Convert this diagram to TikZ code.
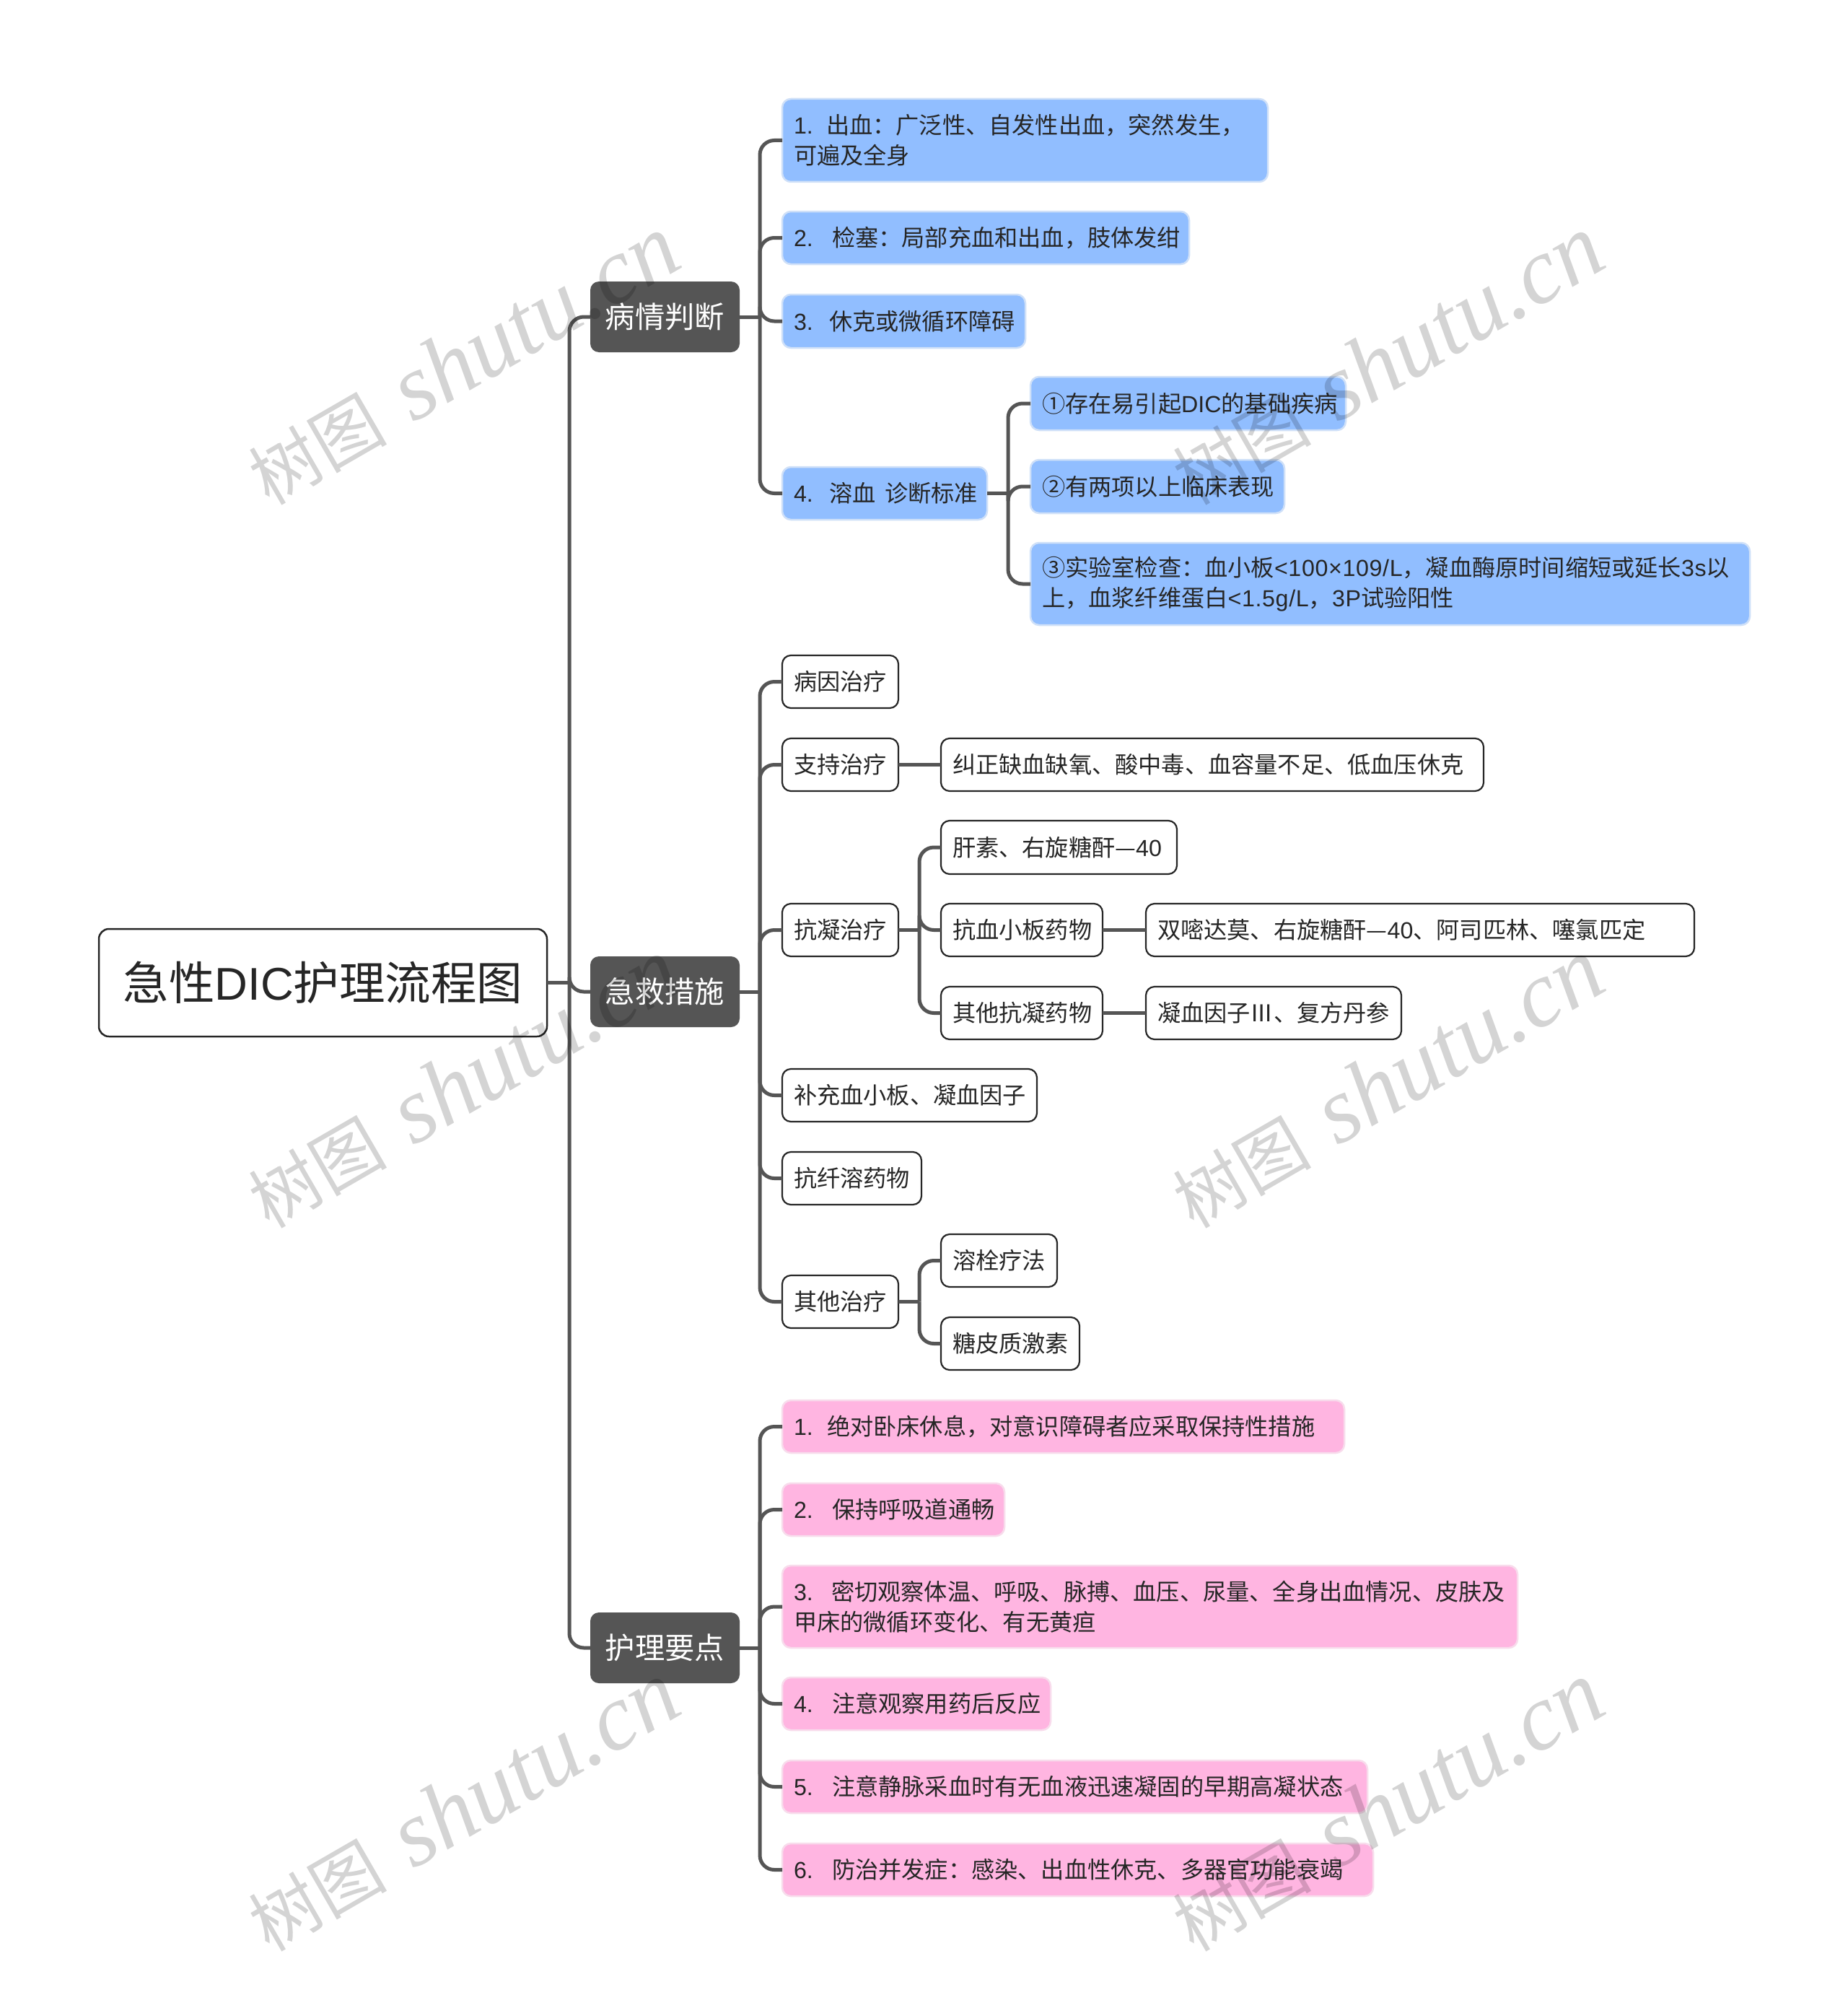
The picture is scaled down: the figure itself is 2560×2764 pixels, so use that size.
\documentclass[tikz,border=0pt]{standalone}
\usepackage{fontspec}
\setmainfont{Noto Sans CJK SC}
\newfontfamily\wmcjk{Noto Sans CJK SC}
\newfontfamily\wmlat{Liberation Serif}[ItalicFont=* Italic]
\newfontfamily\lat{Liberation Sans}
\newfontfamily\lats{Liberation Sans}[LetterSpace=2]
\definecolor{lnk}{HTML}{555555}
\definecolor{blu}{HTML}{91BEFF}
\definecolor{blub}{HTML}{CFE0F8}
\definecolor{pnk}{HTML}{FFB5E1}
\definecolor{pnkb}{HTML}{F8DCEC}
\definecolor{txt}{HTML}{262626}
\tikzset{
  boxbase/.style={rectangle,rounded corners=12pt,outer sep=0pt,inner xsep=16pt,inner ysep=0pt,anchor=north west,align=left,text=txt,font=\fontsize{32.2}{41.8}\selectfont},
  rootbox/.style={boxbase,draw=black!85,line width=2.5pt,fill=white,rounded corners=14pt,font=\fontsize{63.5}{76}\selectfont},
  branchbox/.style={boxbase,draw=none,fill=lnk,text=white,font=\fontsize{41.3}{50}\selectfont},
  bluebox/.style={boxbase,draw=blub,line width=2.5pt,fill=blu},
  pinkbox/.style={boxbase,draw=pnkb,line width=2.5pt,fill=pnk},
  whitebox/.style={boxbase,draw=black!85,line width=2.2pt,fill=white},
  conn/.style={draw=lnk,line width=5pt},
  elbow/.style={conn,rounded corners=20pt},
  wmark/.style={text=black,text opacity=.17,rotate=30,anchor=base west,inner sep=0pt}
}
% \nd{name}{style}{x1}{y1}{x2}{y2}{text}
\newcommand\nd[7]{%
  \pgfmathsetmacro\nw{#5-#3}\pgfmathsetmacro\nh{#6-#4}\pgfmathsetmacro\tw{#5-#3-32}%
  \node[#2,minimum width=\nw pt,minimum height=\nh pt,text width=\tw pt] (#1) at (#3,#4) {\raisebox{-2.5pt}{\parbox[c]{\tw pt}{#7}}};}
% \kid{parent}{child}{trunk}
\newcommand\kid[3]{%
  \draw[conn] (#1.east) -- (#1.east -| #3);
  \draw[elbow] (#1.east -| #3) -- (#2.west -| #3) -- (#2.west);}
\newcommand\la[1]{{\lat #1}}
\newcommand\las[1]{{\lats #1}}
\newcommand\np[2]{\makebox[#2pt][l]{\lat #1.}}
\newcommand\wm[2]{\node[wmark] (#1) at (#2) {\wmcjk\fontsize{96}{110}\selectfont 树图\hspace{38pt}\wmlat\itshape\fontsize{130}{132}\selectfont shutu.cn};}
\begin{document}
\begin{tikzpicture}[x=1pt,y=-1pt]
\useasboundingbox[fill=white] (0,0) rectangle (2560,2764);
\coordinate (t0) at (789,0);
\coordinate (t1) at (1053,0);
\coordinate (t2) at (1397,0);
\coordinate (t3) at (1274,0);
\nd{root}{rootbox}{137}{1287}{758}{1436}{\centering\raisebox{3pt}{急性\la{DIC}护理流程图}}
\nd{b1}{branchbox}{818}{390}{1025}{488}{\centering 病情判断}
\nd{b2}{branchbox}{818}{1325}{1025}{1423}{\centering 急救措施}
\nd{b3}{branchbox}{818}{2234}{1025}{2332}{\centering 护理要点}
% blue
\nd{a1}{bluebox}{1084}{137}{1757}{252}{\np{1}{45}出血：广泛性、自发性出血，突然发生，\\可遍及全身}
\nd{a2}{bluebox}{1084}{293}{1648}{366}{\np{2}{53}检塞：局部充血和出血，肢体发绀}
\nd{a3}{bluebox}{1084}{408}{1421}{482}{\np{3}{49}休克或微循环障碍}
\nd{a4}{bluebox}{1084}{647}{1368}{720}{\np{4}{49}溶血\hbox to 13pt{\hfil}诊断标准}
\nd{a41}{bluebox}{1428}{522}{1865}{596}{①存在易引起\la{DIC}的基础疾病}
\nd{a42}{bluebox}{1428}{637}{1780}{711}{②有两项以上临床表现}
\nd{a43}{bluebox}{1428}{752}{2425}{866}{③实验室检查：血小板\las{<100×109/L}，凝血酶原时间缩短或延长\las{3s}以\\上，血浆纤维蛋白\las{<1.5g/L}，\las{3P}试验阳性}
% white
\nd{c1}{whitebox}{1084}{908}{1245}{981}{病因治疗}
\nd{c2}{whitebox}{1084}{1023}{1245}{1096}{支持治疗}
\nd{c21}{whitebox}{1304}{1023}{2056}{1096}{纠正缺血缺氧、酸中毒、血容量不足、低血压休克}
\nd{c3}{whitebox}{1084}{1252}{1245}{1325}{抗凝治疗}
\nd{c31}{whitebox}{1304}{1137}{1631}{1211}{肝素、右旋糖酐—\la{40}}
\nd{c32}{whitebox}{1304}{1252}{1528}{1325}{抗血小板药物}
\nd{c321}{whitebox}{1588}{1252}{2348}{1325}{双嘧达莫、右旋糖酐—\la{40}、阿司匹林、噻氯匹定}
\nd{c33}{whitebox}{1304}{1367}{1528}{1440}{其他抗凝药物}
\nd{c331}{whitebox}{1588}{1367}{1942}{1440}{凝血因子Ⅲ、复方丹参}
\nd{c4}{whitebox}{1084}{1481}{1437}{1554}{补充血小板、凝血因子}
\nd{c5}{whitebox}{1084}{1596}{1277}{1669}{抗纤溶药物}
\nd{c6}{whitebox}{1084}{1767}{1245}{1840}{其他治疗}
\nd{c61}{whitebox}{1304}{1710}{1465}{1783}{溶栓疗法}
\nd{c62}{whitebox}{1304}{1825}{1496}{1898}{糖皮质激素}
% pink
\nd{d1}{pinkbox}{1084}{1940}{1863}{2013}{\np{1}{46}绝对卧床休息，对意识障碍者应采取保持性措施}
\nd{d2}{pinkbox}{1084}{2055}{1392}{2128}{\np{2}{53}保持呼吸道通畅}
\nd{d3}{pinkbox}{1084}{2169}{2103}{2283}{\np{3}{52}密切观察体温、呼吸、脉搏、血压、尿量、全身出血情况、皮肤及\\甲床的微循环变化、有无黄疸}
\nd{d4}{pinkbox}{1084}{2324}{1456}{2397}{\np{4}{53}注意观察用药后反应}
\nd{d5}{pinkbox}{1084}{2439}{1895}{2512}{\np{5}{53}注意静脉采血时有无血液迅速凝固的早期高凝状态}
\nd{d6}{pinkbox}{1084}{2554}{1903}{2627}{\np{6}{53}防治并发症：感染、出血性休克、多器官功能衰竭}
% connectors
\foreach \k in {b1,b2,b3} {\kid{root}{\k}{t0}}
\foreach \k in {a1,a2,a3,a4} {\kid{b1}{\k}{t1}}
\foreach \k in {c1,c2,c3,c4,c5,c6} {\kid{b2}{\k}{t1}}
\foreach \k in {d1,d2,d3,d4,d5,d6} {\kid{b3}{\k}{t1}}
\foreach \k in {a41,a42,a43} {\kid{a4}{\k}{t2}}
\draw[conn] (c2.east) -- (c21.west);
\foreach \k in {c31,c32,c33} {\kid{c3}{\k}{t3}}
\draw[conn] (c32.east) -- (c321.west);
\draw[conn] (c33.east) -- (c331.west);
\foreach \k in {c61,c62} {\kid{c6}{\k}{t3}}
% watermarks
\wm{w1}{373,702}
\wm{w2}{1654,702}
\wm{w3}{373,1704}
\wm{w4}{1654,1704}
\wm{w5}{373,2706}
\wm{w6}{1654,2706}
\end{tikzpicture}
\end{document}
